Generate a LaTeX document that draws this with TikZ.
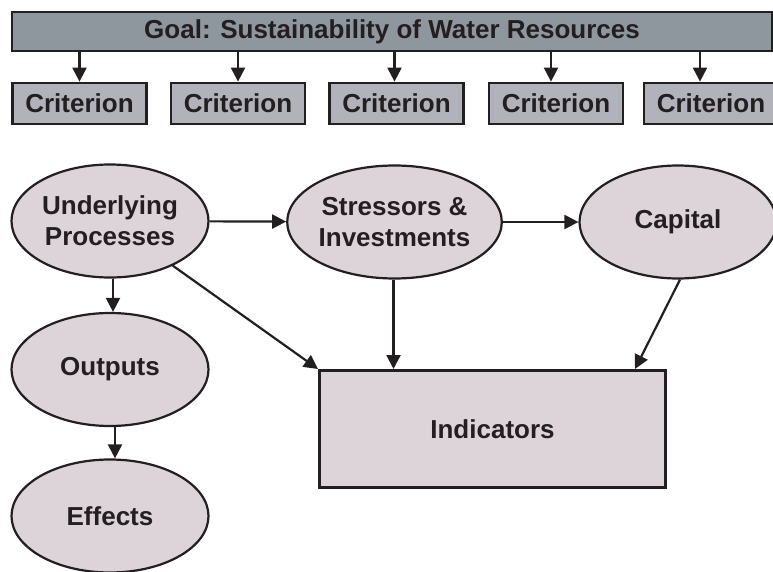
\documentclass[tikz,border=0pt]{standalone}
\usepackage{fontspec}
\setmainfont{Liberation Sans}
\usetikzlibrary{arrows.meta,shapes.geometric}
\definecolor{goalgray}{RGB}{142,150,158}
\definecolor{critgray}{RGB}{178,178,186}
\definecolor{pinkgray}{RGB}{220,212,216}
\definecolor{ink}{RGB}{35,31,32}
\tikzset{
  txt/.style={font=\fontsize{26}{31}\selectfont\bfseries, text=ink, align=center},
  goalbox/.style={txt, draw=ink, line width=2.8pt, fill=goalgray, minimum width=760pt, minimum height=39pt, inner sep=0pt},
  critbox/.style={txt, draw=ink, line width=2.8pt, fill=critgray, minimum width=134pt, minimum height=41pt, inner sep=0pt},
  blob/.style={txt, ellipse, draw=ink, line width=2.2pt, fill=pinkgray, minimum width=197pt, minimum height=113pt, inner sep=0pt},
  indbox/.style={txt, draw=ink, line width=3pt, fill=pinkgray, minimum width=346pt, minimum height=117pt, inner sep=0pt},
  arr/.style={draw=ink, line width=2.2pt, -{Triangle[length=14pt,width=14pt]}}
}

\begin{document}
\begin{tikzpicture}[x=1pt, y=-1pt]
\useasboundingbox (0, 0) rectangle (773, 572);

\node[goalbox] (goal) at (392, 31.5) {Goal: Sustainability of Water Resources};
\node[critbox] (c1) at (79.5, 103.5) {Criterion};
\node[critbox] (c2) at (238, 103.5) {Criterion};
\node[critbox] (c3) at (396.5, 103.5) {Criterion};
\node[critbox] (c4) at (556, 103.5) {Criterion};
\node[critbox] (c5) at (711, 103.5) {Criterion};
\foreach \c/\dx in {c1/0, c2/0, c3/-2, c4/-5, c5/-11}
  \draw[arr] ([xshift=\dx pt]goal.south -| \c.north) -- ([xshift=\dx pt]\c.north);

\node[blob] (under) at (110, 221) {Underlying\\Processes};
\node[blob] (stress) at (394.5, 222) {Stressors \&\\Investments};
\node[blob] (capital) at (678, 222) {Capital};
\node[blob] (outputs) at (110, 369.5) {Outputs};
\node[blob] (effects) at (110, 516) {Effects};
\node[indbox] (ind) at (492.5, 429) {Indicators};

\draw[arr] (under) -- (stress);
\draw[arr] (stress) -- (capital);
\draw[arr] ([xshift=3pt]under.south) -- ([xshift=3pt]outputs.north);
\draw[arr] ([xshift=5pt]outputs.south) -- ([xshift=5pt]effects.north);
\draw[arr] (under) -- (ind.north west);
\draw[arr] ([xshift=-1pt]stress.south) -- ([xshift=-1pt]stress.south |- ind.north);
\draw[arr] ([xshift=2pt]capital.south) -- ([xshift=-32pt]ind.north east);

\end{tikzpicture}
\end{document}
